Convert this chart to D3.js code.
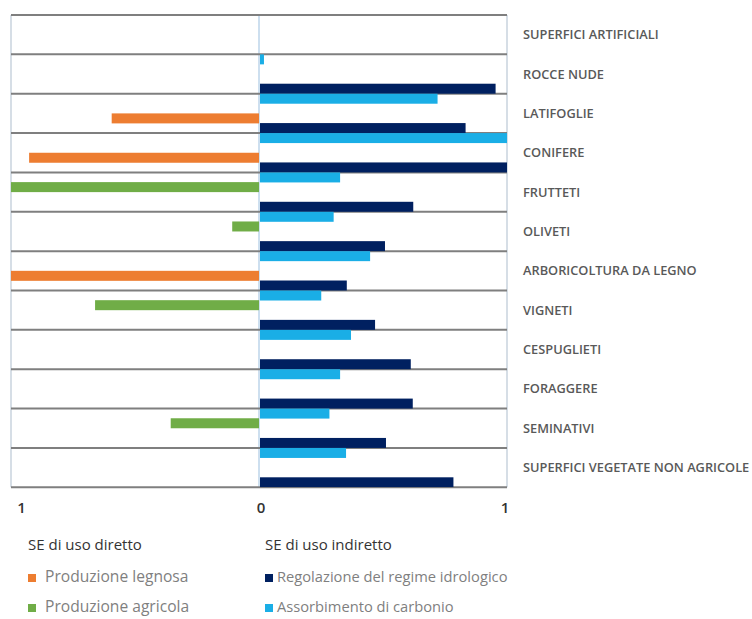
<!DOCTYPE html>
<html>
<head>
<meta charset="utf-8">
<script src="https://cdn.jsdelivr.net/npm/d3@7"></script>
<style>
  html, body { margin: 0; padding: 0; background: #ffffff; }
  svg { display: block; }
  text { font-family: "Open Sans", "Noto Sans", sans-serif; }
</style>
</head>
<body>
<svg id="chart" width="752" height="619"></svg>
<script>
// Land-cover classes, top to bottom
const categories = [
  "SUPERFICI ARTIFICIALI", "ROCCE NUDE", "LATIFOGLIE", "CONIFERE", "FRUTTETI",
  "OLIVETI", "ARBORICOLTURA DA LEGNO", "VIGNETI", "CESPUGLIETI", "FORAGGERE",
  "SEMINATIVI", "SUPERFICI VEGETATE NON AGRICOLE"
];

// Direct-use ecosystem services (drawn to the left of zero)
const produzioneLegnosa  = [null, null, 0.594, 0.927, null, null, 1.0, null, null, null, null, null];
const produzioneAgricola = [null, null, null, null, 1.0, 0.108, null, 0.661, null, null, 0.356, null];

// Indirect-use ecosystem services (drawn to the right of zero)
const regolazioneIdrologica = [0, 0.954, 0.833, 1.0, 0.622, 0.508, 0.354, 0.468, 0.612, 0.62, 0.512, 0.784];
const assorbimentoCarbonio  = [0.02, 0.72, 1.0, 0.327, 0.301, 0.448, 0.251, 0.371, 0.327, 0.284, 0.351, null];

const axisTicks = [
  { side: "left", value: 1, label: "1" },
  { side: "zero", value: 0, label: "0" },
  { side: "right", value: 1, label: "1" }
];

const legendGroups = [
  { title: "SE di uso diretto", items: [
      { label: "Produzione legnosa", key: "legnosa" },
      { label: "Produzione agricola", key: "agricola" } ] },
  { title: "SE di uso indiretto", items: [
      { label: "Regolazione del regime idrologico", key: "idro" },
      { label: "Assorbimento di carbonio", key: "carbonio" } ] }
];

const colors = {
  legnosa: "#ED7D31",
  agricola: "#70AD47",
  idro: "#002060",
  carbonio: "#1AAEE6"
};

// Layout
const plot = { left: 11, zero: 259, right: 507, top: 15, bottom: 487.3 };
const svg = d3.select("#chart");

const xLeft  = d3.scaleLinear().domain([0, 1]).range([plot.zero, plot.left]);
const xRight = d3.scaleLinear().domain([0, 1]).range([plot.zero, plot.right]);

const y = d3.scaleBand().domain(categories).range([plot.top, plot.bottom]).padding(0);
const step = y.step();
// Indirect-use pairs sit on the row separators (half a row lower)
const yRight = d3.scaleBand().domain(categories)
  .range([plot.top + step / 2, plot.bottom + step / 2]).padding(0);

const inner = d3.scaleBand().domain(["agricola", "legnosa"]).range([-10, 10]);
const innerRight = d3.scaleBand().domain(["idro", "carbonio"]).range([-10, 10]);

svg.append("defs").append("clipPath").attr("id", "plotClip")
  .append("rect")
  .attr("x", plot.left).attr("y", plot.top)
  .attr("width", plot.right - plot.left).attr("height", plot.bottom - plot.top);

// Frame and zero line
const frame = svg.append("g");
frame.selectAll("line.v")
  .data([plot.left, plot.zero, plot.right])
  .join("line")
  .attr("x1", d => d).attr("x2", d => d)
  .attr("y1", plot.top).attr("y2", plot.bottom)
  .attr("stroke", (d, i) => i === 1 ? "#bcd5ea" : "#c9d3de")
  .attr("stroke-width", 1.5);

// Row separators
const sepYs = categories.map(c => y(c)).concat([plot.bottom]);
frame.selectAll("line.h")
  .data(sepYs)
  .join("line")
  .attr("x1", plot.left).attr("x2", plot.right)
  .attr("y1", d => d).attr("y2", d => d)
  .attr("stroke", "#7f7f7f")
  .attr("stroke-width", 2);

// Bars
const bars = svg.append("g").attr("clip-path", "url(#plotClip)");

function leftSeries(values, key) {
  const rows = categories.map((c, i) => ({ c, v: values[i] })).filter(d => d.v != null && d.v > 0);
  bars.selectAll(null).data(rows).join("rect")
    .attr("x", d => xLeft(d.v))
    .attr("width", d => xLeft(0) - xLeft(d.v))
    .attr("y", d => y(d.c) + step / 2 + inner(key))
    .attr("height", inner.bandwidth())
    .attr("fill", colors[key]);
}
function rightSeries(values, key) {
  const rows = categories.map((c, i) => ({ c, v: values[i] })).filter(d => d.v != null && d.v > 0);
  bars.selectAll(null).data(rows).join("rect")
    .attr("x", xRight(0) + 1)
    .attr("width", d => xRight(d.v) - xRight(0) - 1)
    .attr("y", d => yRight(d.c) + step / 2 + innerRight(key))
    .attr("height", innerRight.bandwidth())
    .attr("fill", colors[key]);
}
leftSeries(produzioneAgricola, "agricola");
leftSeries(produzioneLegnosa, "legnosa");
rightSeries(regolazioneIdrologica, "idro");
rightSeries(assorbimentoCarbonio, "carbonio");

// Category labels
svg.append("g").selectAll("text")
  .data(categories)
  .join("text")
  .attr("x", 523)
  .attr("y", d => y(d) + step / 2)
  .attr("dy", "0.35em")
  .attr("font-size", 12.8)
  .attr("font-weight", 600)
  .attr("fill", "#595959")
  .text(d => d);

// Axis labels
svg.append("g").selectAll("text")
  .data(axisTicks)
  .join("text")
  .attr("x", d => d.side === "left" ? xLeft(d.value) + 10.5
                 : d.side === "right" ? xRight(d.value) - 2 : xRight(d.value) + 2)
  .attr("y", 513)
  .attr("text-anchor", "middle")
  .attr("font-size", 15)
  .attr("font-weight", 600)
  .attr("fill", "#333333")
  .text(d => d.label);

// Legend
const legendX = [28, 265];
legendGroups.forEach((g, gi) => {
  const lg = svg.append("g").attr("transform", `translate(${legendX[gi]},0)`);
  lg.append("text")
    .attr("x", 0).attr("y", 550)
    .attr("font-size", 15)
    .attr("fill", "#333333")
    .text(g.title);
  g.items.forEach((it, ii) => {
    const by = 582 + ii * 30;
    lg.append("rect")
      .attr("x", 0).attr("y", by - 8)
      .attr("width", 8).attr("height", 8)
      .attr("fill", colors[it.key]);
    lg.append("text")
      .attr("x", gi === 0 ? 17 : 12).attr("y", by)
      .attr("font-size", gi === 0 ? 15.6 : 14.7)
      .attr("fill", "#7f7f7f")
      .text(it.label);
  });
});
</script>
</body>
</html>
